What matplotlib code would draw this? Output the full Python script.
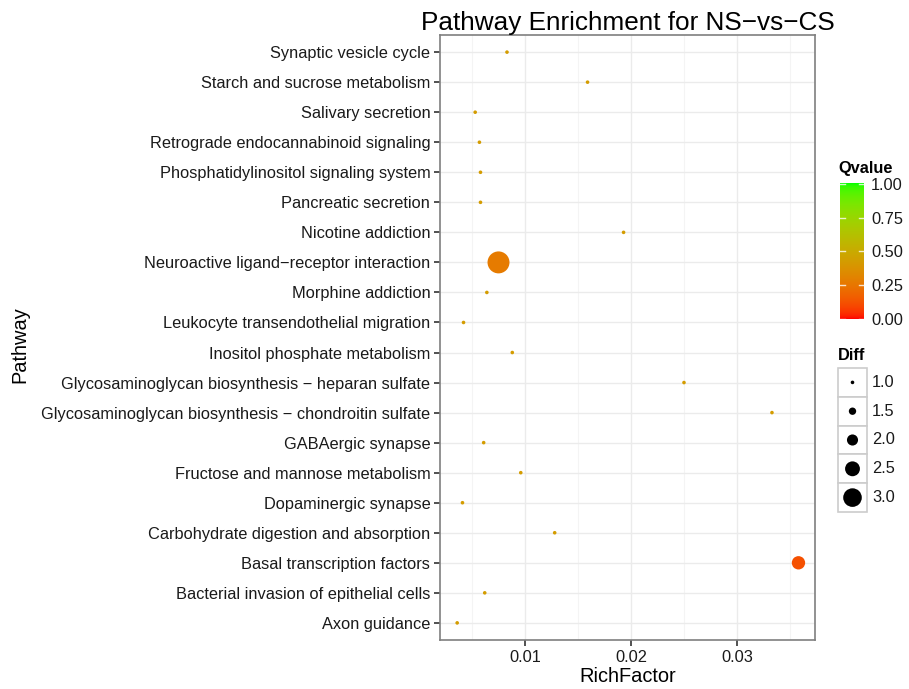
import numpy as np
import matplotlib
matplotlib.use("Agg")
import matplotlib.pyplot as plt
from matplotlib.colors import ListedColormap

plt.rcParams["font.family"] = ["Liberation Sans", "DejaVu Sans"]

# Dataset (top to bottom as drawn)
pathways = ["Synaptic vesicle cycle", "Starch and sucrose metabolism", "Salivary secretion",
            "Retrograde endocannabinoid signaling", "Phosphatidylinositol signaling system",
            "Pancreatic secretion", "Nicotine addiction", "Neuroactive ligand\u2212receptor interaction",
            "Morphine addiction", "Leukocyte transendothelial migration",
            "Inositol phosphate metabolism", "Glycosaminoglycan biosynthesis \u2212 heparan sulfate",
            "Glycosaminoglycan biosynthesis \u2212 chondroitin sulfate", "GABAergic synapse",
            "Fructose and mannose metabolism", "Dopaminergic synapse",
            "Carbohydrate digestion and absorption", "Basal transcription factors",
            "Bacterial invasion of epithelial cells", "Axon guidance"]
rich = [0.0083, 0.0159, 0.0053, 0.0057, 0.0058, 0.0058, 0.0193, 0.0075, 0.0064, 0.0042,
        0.0088, 0.0250, 0.0333, 0.0061, 0.0096, 0.0041, 0.0128, 0.0358, 0.0062, 0.0036]
qvalue = [0.42, 0.42, 0.42, 0.42, 0.42, 0.42, 0.42, 0.27, 0.42, 0.42,
          0.42, 0.42, 0.42, 0.42, 0.42, 0.42, 0.42, 0.12, 0.42, 0.42]
diff = [1, 1, 1, 1, 1, 1, 1, 3.45, 1, 1, 1, 1, 1, 1, 1, 1, 1, 2.3, 1, 1]

diff_breaks = [1.0, 1.5, 2.0, 2.5, 3.0]
q_breaks = [0.0, 0.25, 0.5, 0.75, 1.0]


# red -> green gradient interpolated in Lab space (like ggplot)
def srgb_to_lab(rgb):
    rgb = np.asarray(rgb, float)
    lin = np.where(rgb <= 0.04045, rgb / 12.92, ((rgb + 0.055) / 1.055) ** 2.4)
    M = np.array([[0.4124, 0.3576, 0.1805], [0.2126, 0.7152, 0.0722], [0.0193, 0.1192, 0.9505]])
    xyz = M @ lin / np.array([0.95047, 1.0, 1.08883])
    f = np.where(xyz > 0.008856, np.cbrt(xyz), 7.787 * xyz + 16 / 116)
    return np.array([116 * f[1] - 16, 500 * (f[0] - f[1]), 200 * (f[1] - f[2])])


def lab_to_srgb(lab):
    L, a, b = lab
    fy = (L + 16) / 116
    fx = fy + a / 500
    fz = fy - b / 200
    f = np.array([fx, fy, fz])
    xyz = np.where(f ** 3 > 0.008856, f ** 3, (f - 16 / 116) / 7.787) * np.array([0.95047, 1.0, 1.08883])
    Minv = np.array([[3.2406, -1.5372, -0.4986], [-0.9689, 1.8758, 0.0415], [0.0557, -0.2040, 1.0570]])
    lin = np.clip(Minv @ xyz, 0, 1)
    rgb = np.where(lin <= 0.0031308, 12.92 * lin, 1.055 * lin ** (1 / 2.4) - 0.055)
    return np.clip(rgb, 0, 1)


lab_lo = srgb_to_lab([1, 0, 0])
lab_hi = srgb_to_lab([0, 1, 0])
cmap = ListedColormap([lab_to_srgb(lab_lo + t * (lab_hi - lab_lo)) for t in np.linspace(0, 1, 256)])


def diam_pt(d):
    # marker diameter in points
    px = 3.6 + 7.5 * (np.asarray(d, float) - 1)
    return px * 0.72


FS = 11.8
fig = plt.figure(figsize=(9.09, 6.89), dpi=100)
ax = fig.add_axes([440 / 909, 49 / 689, 375 / 909, 605 / 689])

ypos = np.arange(len(pathways))[::-1]
ax.scatter(rich, ypos, s=diam_pt(diff) ** 2, c=qvalue, cmap=cmap, vmin=0, vmax=1,
           edgecolors="none", zorder=3)

ax.set_xlim(0.00198, 0.03736)
ax.set_ylim(-0.57, len(pathways) - 1 + 0.57)
ax.set_yticks(ypos)
ax.set_yticklabels(pathways, fontsize=FS, color="#1A1A1A")
ax.set_xticks([0.01, 0.02, 0.03])
ax.set_xticklabels(["0.01", "0.02", "0.03"], fontsize=FS, color="#1A1A1A")
ax.set_xticks([0.005, 0.015, 0.025, 0.035], minor=True)
ax.tick_params(which="major", length=4, width=1.2, color="#333333", pad=3)
ax.tick_params(which="minor", length=0)
ax.grid(True, which="major", color="#EBEBEB", linewidth=1.0, zorder=0)
ax.grid(True, which="minor", axis="x", color="#F4F4F4", linewidth=0.8, zorder=0)
ax.set_axisbelow(True)
for sp in ax.spines.values():
    sp.set_color("#7F7F7F")
    sp.set_linewidth(1.2)

ax.set_xlabel("RichFactor", fontsize=14.4, labelpad=2)
ax.set_ylabel("Pathway", fontsize=14.4, va="center")
ax.yaxis.set_label_coords(20 / 909, 0.5, transform=fig.transFigure)
ax.set_title("Pathway Enrichment for NS\u2212vs\u2212CS", fontsize=18.8, pad=3)

# Qvalue colourbar
cax = fig.add_axes([840 / 909, (689 - 320) / 689, 24 / 909, 137 / 689])
grad = np.linspace(0, 1, 256).reshape(-1, 1)
cax.imshow(grad, aspect="auto", cmap=cmap, origin="lower", extent=[0, 1, 0, 1])
for q in q_breaks:
    cax.plot([0, 0.2], [q, q], color="white", lw=1, alpha=0.8)
    cax.plot([0.8, 1], [q, q], color="white", lw=1, alpha=0.8)
cax.set_xlim(0, 1)
cax.set_ylim(-0.005, 1.005)
cax.set_xticks([])
cax.yaxis.tick_right()
cax.set_yticks(q_breaks)
cax.set_yticklabels(["%.2f" % q for q in q_breaks], fontsize=FS, color="#1A1A1A")
cax.tick_params(axis="y", length=0, pad=5)
for sp in cax.spines.values():
    sp.set_visible(False)
fig.text(838 / 909, 1 - 168 / 689, "Qvalue", fontsize=FS, fontweight="bold", va="center")

# Diff size legend, drawn in pixel coords
lax = fig.add_axes([0, 0, 1, 1], facecolor="none")
lax.set_xlim(0, 909)
lax.set_ylim(689, 0)
lax.axis("off")
lax.text(838, 356, "Diff", fontsize=FS, fontweight="bold", va="center")
key_h = 28.8
for i, b in enumerate(diff_breaks):
    top = 368 + i * key_h
    lax.add_patch(plt.Rectangle((838, top), 29, key_h, facecolor="white",
                                edgecolor="#CCCCCC", lw=1.2))
    lax.scatter([852.5], [top + key_h / 2], s=diam_pt(b) ** 2, color="black", edgecolors="none")
    lax.text(872, top + key_h / 2, "%.1f" % b, fontsize=FS, va="center", color="#1A1A1A")

fig.savefig("out.png", dpi=100)
